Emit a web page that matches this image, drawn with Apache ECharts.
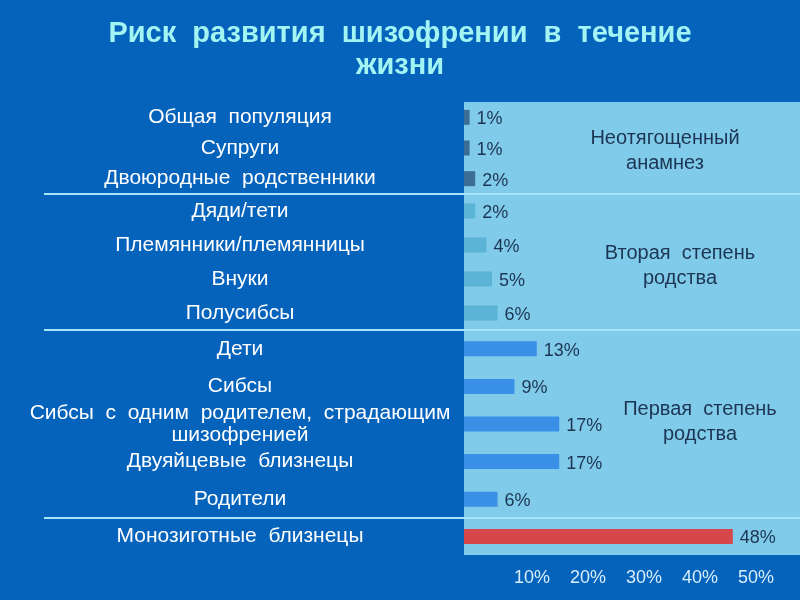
<!DOCTYPE html>
<html><head><meta charset="utf-8">
<script src="https://cdn.jsdelivr.net/npm/echarts@6/dist/echarts.min.js"></script>
<style>html,body{margin:0;padding:0;background:#0563bc;}#c{width:800px;height:600px;}</style>
</head><body><div id="c"></div>
<script>
const categories1 = ['Общая  популяция', 'Супруги', 'Двоюродные  родственники'];
const values1 = [1, 1, 2];
const categories2 = ['Дяди/тети', 'Племянники/племянницы', 'Внуки', 'Полусибсы'];
const values2 = [2, 4, 5, 6];
const categories3 = ['Дети', 'Сибсы', 'Сибсы  с  одним  родителем,  страдающим\nшизофренией', 'Двуяйцевые  близнецы', 'Родители'];
const values3 = [13, 9, 17, 17, 6];
const categories4 = ['Монозиготные  близнецы'];
const values4 = [48];
const groupNames = ['Неотягощенный\nанамнез', 'Вторая  степень\nродства', 'Первая  степень\nродства'];
const axisMin = 0, axisMax = 60, axisStep = 10;

const FONT = 'Liberation Sans, Arial, sans-serif';
const panel = '#80cbea';
const grids = [
  {top: 102, height: 92},
  {top: 194, height: 136},
  {top: 330, height: 188},
  {top: 518, height: 37}
];
const cats = [categories1, categories2, categories3, categories4];
const vals = [values1, values2, values3, values4];
const colors = ['#3b6d95', '#5bb3d6', '#3a8fe6', '#d6474b'];

const option = {
  backgroundColor: '#0563bc',
  animation: false,
  title: {
    text: 'Риск  развития  шизофрении  в  течение\nжизни',
    left: 'center', top: 13,
    textStyle: {color: '#a2f5f3', fontFamily: FONT, fontSize: 29, fontWeight: 'bold', lineHeight: 32}
  },
  grid: grids.map(g => ({left: 464, right: 0, top: g.top, height: g.height, show: true, backgroundColor: panel, borderWidth: 0, outerBoundsMode: 'none', containLabel: false})),
  xAxis: grids.map((g, i) => ({
    type: 'value', gridIndex: i, min: axisMin, max: axisMax, interval: axisStep,
    show: i === 3,
    axisLine: {show: false}, axisTick: {show: false}, splitLine: {show: false},
    axisLabel: {
      show: i === 3, margin: 14, color: '#d6eefc', fontFamily: FONT, fontSize: 18,
      padding: [0, 0, 0, 24],
      formatter: v => (v === axisMin || v === axisMax) ? '' : v + '%'
    }
  })),
  yAxis: grids.map((g, i) => ({
    type: 'category', gridIndex: i, data: cats[i], inverse: true,
    axisLine: {show: false}, axisTick: {show: false}, splitLine: {show: false},
    axisLabel: {interval: 0, margin: 224, align: 'center', color: '#ffffff', fontFamily: FONT, fontSize: 21, lineHeight: 22, padding: [5, 0, 0, 0]}
  })),
  series: vals.map((v, i) => ({
    type: 'bar', xAxisIndex: i, yAxisIndex: i, data: v, barWidth: 15,
    itemStyle: {color: colors[i]},
    label: {show: true, position: 'right', distance: 7, offset: [0, 2], formatter: '{c}%', color: '#1c3552', fontFamily: FONT, fontSize: 18}
  })),
  graphic: [
    ...[194, 330, 518].map(y => ({type: 'line', shape: {x1: 44, y1: y, x2: 800, y2: y}, style: {stroke: '#a8e4f8', lineWidth: 2}, z: 100})),
    {type: 'text', x: 665, y: 151, style: {text: groupNames[0], fill: '#1c3552', font: '20px ' + FONT, textAlign: 'center', textVerticalAlign: 'middle', lineHeight: 25}},
    {type: 'text', x: 680, y: 266, style: {text: groupNames[1], fill: '#1c3552', font: '20px ' + FONT, textAlign: 'center', textVerticalAlign: 'middle', lineHeight: 25}},
    {type: 'text', x: 700, y: 422, style: {text: groupNames[2], fill: '#1c3552', font: '20px ' + FONT, textAlign: 'center', textVerticalAlign: 'middle', lineHeight: 25}}
  ]
};
const chart = echarts.init(document.getElementById('c'));
chart.setOption(option);
</script></body></html>
